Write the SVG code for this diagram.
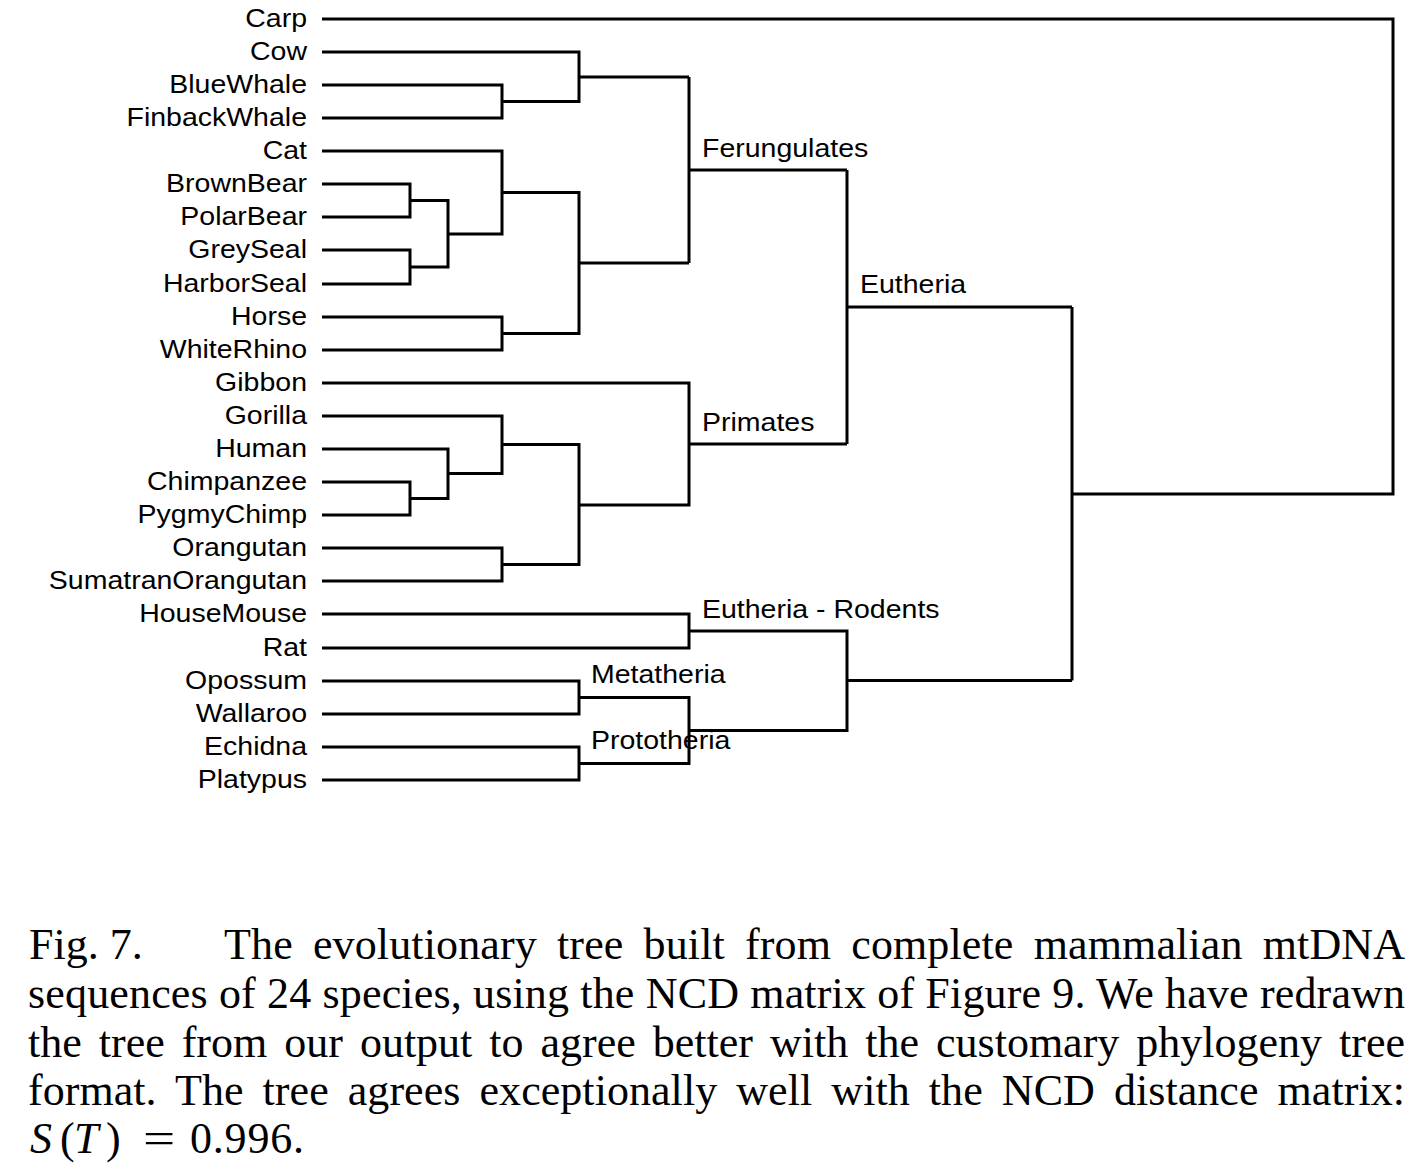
<svg xmlns="http://www.w3.org/2000/svg" width="1412" height="1164" viewBox="0 0 1412 1164">
<style>
.lf{font-family:"Liberation Sans",Arial,sans-serif;font-size:25px;fill:#000;text-anchor:end}
.cl{font-family:"Liberation Sans",Arial,sans-serif;font-size:25px;fill:#000}
.cap{font-family:"Liberation Serif","Times New Roman",serif;font-size:44px;fill:#000}
.it{font-style:italic}
#connectors path{fill:none;stroke:#000;stroke-width:3;stroke-linejoin:miter;stroke-linecap:butt}
</style>
<rect width="1412" height="1164" fill="#fff"/>
<g id="connectors">
<path d="M322 19 H1393 V494 H1072"/>
<path d="M322 52 H579 V101.5 H502"/>
<path d="M322 85 H502 V118 H322"/>
<path d="M579 77 H689"/>
<path d="M689 77 V263"/>
<path d="M689 170 H847"/>
<path d="M322 151 H502 V234 H448"/>
<path d="M322 184 H410 V217 H322"/>
<path d="M322 250 H410 V284 H322"/>
<path d="M410 200.5 H448 V267 H410"/>
<path d="M502 192.5 H579 V333.5 H502"/>
<path d="M322 317 H502 V350 H322"/>
<path d="M579 263 H689"/>
<path d="M322 383 H689 V505 H579"/>
<path d="M322 416 H502 V473.5 H448"/>
<path d="M322 449 H448 V498.5 H410"/>
<path d="M322 482 H410 V515 H322"/>
<path d="M502 444.5 H579 V564.5 H502"/>
<path d="M322 548 H502 V581 H322"/>
<path d="M689 444 H847"/>
<path d="M847 170 V444"/>
<path d="M847 307 H1072"/>
<path d="M322 614 H689 V648 H322"/>
<path d="M689 631 H847 V730.5 H689"/>
<path d="M322 681 H579 V714 H322"/>
<path d="M579 697.5 H689 V763.5 H579"/>
<path d="M322 747 H579 V780 H322"/>
<path d="M847 680.5 H1072"/>
<path d="M1072 307 V680.5"/>
</g>
<g id="leaf-carp"><text class="lf" transform="translate(307,27) scale(1.14,1)">Carp</text></g>
<g id="leaf-cow"><text class="lf" transform="translate(307,60) scale(1.14,1)">Cow</text></g>
<g id="leaf-bluewhale"><text class="lf" transform="translate(307,93) scale(1.14,1)">BlueWhale</text></g>
<g id="leaf-finbackwhale"><text class="lf" transform="translate(307,126) scale(1.14,1)">FinbackWhale</text></g>
<g id="leaf-cat"><text class="lf" transform="translate(307,159) scale(1.14,1)">Cat</text></g>
<g id="leaf-brownbear"><text class="lf" transform="translate(307,192) scale(1.14,1)">BrownBear</text></g>
<g id="leaf-polarbear"><text class="lf" transform="translate(307,225) scale(1.14,1)">PolarBear</text></g>
<g id="leaf-greyseal"><text class="lf" transform="translate(307,258) scale(1.14,1)">GreySeal</text></g>
<g id="leaf-harborseal"><text class="lf" transform="translate(307,292) scale(1.14,1)">HarborSeal</text></g>
<g id="leaf-horse"><text class="lf" transform="translate(307,325) scale(1.14,1)">Horse</text></g>
<g id="leaf-whiterhino"><text class="lf" transform="translate(307,358) scale(1.14,1)">WhiteRhino</text></g>
<g id="leaf-gibbon"><text class="lf" transform="translate(307,391) scale(1.14,1)">Gibbon</text></g>
<g id="leaf-gorilla"><text class="lf" transform="translate(307,424) scale(1.14,1)">Gorilla</text></g>
<g id="leaf-human"><text class="lf" transform="translate(307,457) scale(1.14,1)">Human</text></g>
<g id="leaf-chimpanzee"><text class="lf" transform="translate(307,490) scale(1.14,1)">Chimpanzee</text></g>
<g id="leaf-pygmychimp"><text class="lf" transform="translate(307,523) scale(1.14,1)">PygmyChimp</text></g>
<g id="leaf-orangutan"><text class="lf" transform="translate(307,556) scale(1.14,1)">Orangutan</text></g>
<g id="leaf-sumatranorangutan"><text class="lf" transform="translate(307,589) scale(1.14,1)">SumatranOrangutan</text></g>
<g id="leaf-housemouse"><text class="lf" transform="translate(307,622) scale(1.14,1)">HouseMouse</text></g>
<g id="leaf-rat"><text class="lf" transform="translate(307,656) scale(1.14,1)">Rat</text></g>
<g id="leaf-opossum"><text class="lf" transform="translate(307,689) scale(1.14,1)">Opossum</text></g>
<g id="leaf-wallaroo"><text class="lf" transform="translate(307,722) scale(1.14,1)">Wallaroo</text></g>
<g id="leaf-echidna"><text class="lf" transform="translate(307,755) scale(1.14,1)">Echidna</text></g>
<g id="leaf-platypus"><text class="lf" transform="translate(307,788) scale(1.14,1)">Platypus</text></g>
<g id="clade-ferungulates"><text class="cl" transform="translate(702,157) scale(1.14,1)">Ferungulates</text></g>
<g id="clade-eutheria"><text class="cl" transform="translate(860,293) scale(1.14,1)">Eutheria</text></g>
<g id="clade-primates"><text class="cl" transform="translate(702,431) scale(1.14,1)">Primates</text></g>
<g id="clade-rodents"><text class="cl" transform="translate(702,618) scale(1.14,1)">Eutheria - Rodents</text></g>
<g id="clade-metatheria"><text class="cl" transform="translate(591,683) scale(1.14,1)">Metatheria</text></g>
<g id="clade-prototheria"><text class="cl" transform="translate(591,749) scale(1.14,1)">Prototheria</text></g>
<g id="caption">
<text class="cap" x="29" y="959">Fig. 7.</text>
<text class="cap" x="224" y="959" word-spacing="9" textLength="1181" lengthAdjust="spacing">The evolutionary tree built from complete mammalian mtDNA</text>
<text class="cap" x="28" y="1008" textLength="1377" lengthAdjust="spacing">sequences of 24 species, using the NCD matrix of Figure 9. We have redrawn</text>
<text class="cap" x="28" y="1057" word-spacing="6" textLength="1377" lengthAdjust="spacing">the tree from our output to agree better with the customary phylogeny tree</text>
<text class="cap" x="28" y="1105" word-spacing="8" textLength="1377" lengthAdjust="spacing">format. The tree agrees exceptionally well with the NCD distance matrix:</text>
<text class="cap" y="1153"><tspan class="it" x="30">S</tspan><tspan x="60">(</tspan><tspan class="it" x="74">T</tspan><tspan x="106">)</tspan></text>
<text class="cap" x="143" y="1153" transform="translate(143,0) scale(1.3,1) translate(-143,0)">=</text>
<text class="cap" x="190" y="1153" textLength="114" lengthAdjust="spacing">0.996.</text>
</g>
</svg>
